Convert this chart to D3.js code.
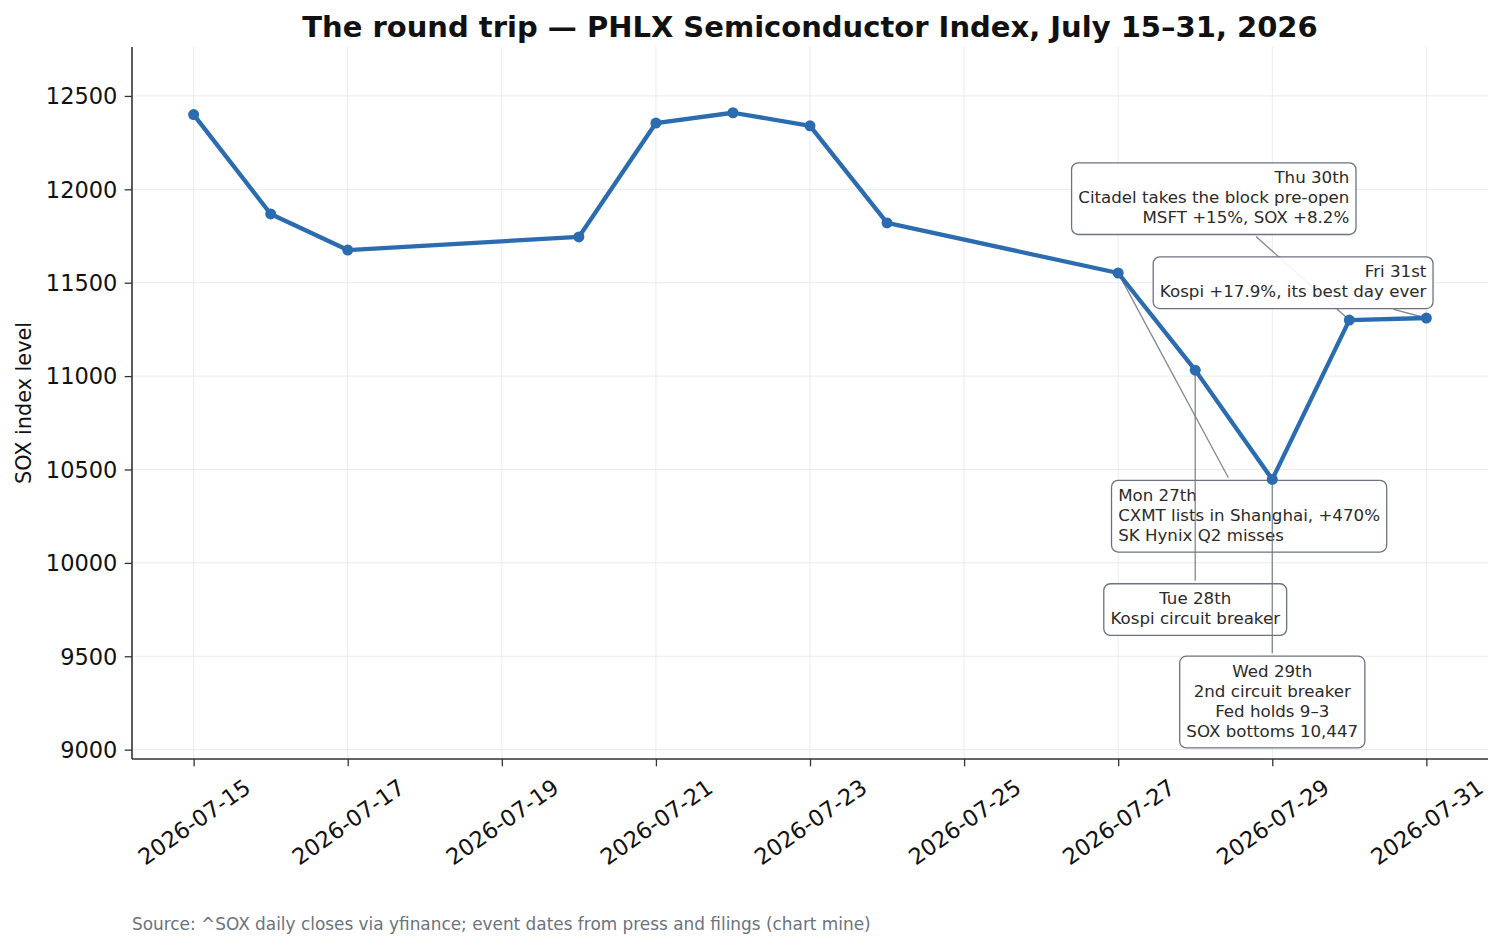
<!DOCTYPE html>
<html>
<head>
<meta charset="utf-8">
<script src="https://cdn.jsdelivr.net/npm/d3@7"></script>
<style>
  body { margin: 0; background: #fff; }
  svg { font-family: "DejaVu Sans", sans-serif; }
</style>
</head>
<body>
<svg class="chart" width="1502" height="948"></svg>
<script>
// daily closes
var dates = ["2026-07-15", "2026-07-16", "2026-07-17", "2026-07-20", "2026-07-21",
             "2026-07-22", "2026-07-23", "2026-07-24", "2026-07-27", "2026-07-28",
             "2026-07-29", "2026-07-30", "2026-07-31"];
var closes = [12400, 11868, 11675, 11745, 12355, 12410, 12340, 11820, 11552, 11032,
              10447, 11300, 11311];

var yTicks = [9000, 9500, 10000, 10500, 11000, 11500, 12000, 12500];
var xTicks = ["2026-07-15", "2026-07-17", "2026-07-19", "2026-07-21", "2026-07-23",
              "2026-07-25", "2026-07-27", "2026-07-29", "2026-07-31"];

// events: which day they point to, where the note sits, how it is aligned
var eventDays = ["2026-07-27", "2026-07-28", "2026-07-29", "2026-07-30", "2026-07-31"];
var eventTextAt = [["2026-07-27", 10250], ["2026-07-28", 9750], ["2026-07-29", 9255],
                   ["2026-07-30", 11950], ["2026-07-31", 11500]];
var eventAlign = ["start", "middle", "middle", "end", "end"];
var eventText = [
  ["Mon 27th", "CXMT lists in Shanghai, +470%", "SK Hynix Q2 misses"],
  ["Tue 28th", "Kospi circuit breaker"],
  ["Wed 29th", "2nd circuit breaker", "Fed holds 9\u20133", "SOX bottoms 10,447"],
  ["Thu 30th", "Citadel takes the block pre-open", "MSFT +15%, SOX +8.2%"],
  ["Fri 31st", "Kospi +17.9%, its best day ever"]
];

var title = "The round trip \u2014 PHLX Semiconductor Index, July 15\u201331, 2026";
var source = "Source: ^SOX daily closes via yfinance; event dates from press and filings (chart mine)";

var parse = d3.utcParse("%Y-%m-%d");
var fmt = d3.utcFormat("%Y-%m-%d");
var DAY = 864e5;

var svg = d3.select("svg.chart");
var m = {left: 132, right: 1488, top: 47, bottom: 759};

var series = dates.map(function(d, i) { return {date: parse(d), value: closes[i]}; });

var x = d3.scaleUtc()
  .domain([new Date(+parse("2026-07-15") - 0.8 * DAY), new Date(+parse("2026-07-31") + 0.8 * DAY)])
  .range([m.left, m.right]);
var y = d3.scaleLinear()
  .domain([8950, 12762])
  .range([m.bottom, m.top]);

// grid
var grid = svg.append("g");
grid.selectAll(".gx").data(xTicks).enter().append("line")
  .attr("x1", d => x(parse(d))).attr("x2", d => x(parse(d)))
  .attr("y1", m.top).attr("y2", m.bottom)
  .attr("stroke", "#ebebeb").attr("stroke-width", 1);
grid.selectAll(".gy").data(yTicks).enter().append("line")
  .attr("x1", m.left).attr("x2", m.right)
  .attr("y1", d => y(d)).attr("y2", d => y(d))
  .attr("stroke", "#ebebeb").attr("stroke-width", 1);

// axes
var tickLen = 7.3, tickPad = 7.3, tickFs = 22.5;
var yAxis = svg.append("g")
  .attr("transform", "translate(" + m.left + ",0)")
  .call(d3.axisLeft(y).tickValues(yTicks).tickFormat(d3.format("d"))
    .tickSize(tickLen).tickPadding(tickPad));
var xAxis = svg.append("g")
  .attr("transform", "translate(0," + m.bottom + ")")
  .call(d3.axisBottom(x).tickValues(xTicks.map(parse)).tickFormat(fmt)
    .tickSize(tickLen).tickPadding(tickPad));

[xAxis, yAxis].forEach(function(a) {
  a.select(".domain").attr("stroke", "#333").attr("stroke-width", 1.6);
  a.selectAll(".tick line").attr("stroke", "#333").attr("stroke-width", 1.3);
  a.selectAll("text").attr("fill", "#111").style("font-size", tickFs + "px")
    .style("font-family", "DejaVu Sans");
});
// vertical axis line should run the full height, horizontal the full width
yAxis.select(".domain").attr("d", "M0," + m.top + "V" + m.bottom);
xAxis.select(".domain").attr("d", "M" + m.left + ",0H" + m.right);

yAxis.selectAll("text").attr("dy", "0.35em");

// rotated date labels, centred under the tick like matplotlib does
var rot = 35 * Math.PI / 180;
xAxis.selectAll(".tick text").each(function() {
  var t = d3.select(this);
  var w = this.getComputedTextLength();
  var h = tickFs * 1.17;
  var bh = w * Math.sin(rot) + h * Math.cos(rot);
  var cy = tickLen + tickPad + bh / 2;
  t.attr("y", null).attr("dy", null)
    .attr("text-anchor", "middle")
    .attr("dominant-baseline", "central")
    .attr("transform", "translate(0," + cy + ") rotate(-35)");
});

// y label
svg.append("text")
  .attr("transform", "translate(24," + ((m.top + m.bottom) / 2) + ") rotate(-90)")
  .attr("text-anchor", "middle").attr("dominant-baseline", "central")
  .style("font-size", "20.8px").attr("fill", "#111")
  .text("SOX index level");

// title
svg.append("text")
  .attr("x", (m.left + m.right) / 2).attr("y", 37)
  .attr("text-anchor", "middle")
  .style("font-size", "29px").style("font-weight", "bold").attr("fill", "#111")
  .text(title);

// source note
svg.append("text")
  .attr("x", m.left).attr("y", 930)
  .style("font-size", "16.9px").attr("fill", "#6b7280")
  .text(source);

// annotations: connector first, then the box, in order
var annFs = 16.67, lineH = annFs * 1.2, pad = annFs * 0.4;
var annG = svg.append("g");
eventText.forEach(function(lines, i) {
  var day = parse(eventDays[i]);
  var pv = closes[dates.indexOf(eventDays[i])];
  var px = x(day), py = y(pv);
  var ax = x(parse(eventTextAt[i][0])), ay = y(eventTextAt[i][1]);
  var g = annG.append("g");
  var conn = g.append("line");
  var box = g.append("rect");
  var txt = g.append("text")
    .style("font-size", annFs + "px").attr("fill", "#2a2a2a")
    .attr("text-anchor", eventAlign[i]);
  var th = (lines.length - 1) * lineH + annFs * 1.1;
  var top = ay - th / 2;
  lines.forEach(function(s, k) {
    txt.append("tspan").attr("x", ax).attr("y", top + annFs * 0.82 + k * lineH).text(s);
  });
  var tw = d3.max(txt.selectAll("tspan").nodes(), n => n.getComputedTextLength());
  var left = eventAlign[i] === "start" ? ax : eventAlign[i] === "end" ? ax - tw : ax - tw / 2;
  var bx0 = left - pad, by0 = top - pad, bw = tw + 2 * pad, bh = th + 2 * pad;
  box.attr("x", bx0).attr("y", by0).attr("width", bw).attr("height", bh)
    .attr("rx", pad).attr("ry", pad)
    .attr("fill", "#fff").attr("fill-opacity", 0.9)
    .attr("stroke", "#6b7280").attr("stroke-width", 1.3);

  // line from box centre to the point, clipped at the box edge
  var cx = bx0 + bw / 2, cy = by0 + bh / 2;
  var dx = px - cx, dy = py - cy;
  var tx = dx !== 0 ? (bw / 2) / Math.abs(dx) : Infinity;
  var ty = dy !== 0 ? (bh / 2) / Math.abs(dy) : Infinity;
  var t0 = Math.min(tx, ty);
  var len = Math.sqrt(dx * dx + dy * dy);
  var tA = t0 + 3 / len, tB = 1 - 3 / len;
  conn.attr("x1", cx + dx * tA).attr("y1", cy + dy * tA)
    .attr("x2", cx + dx * tB).attr("y2", cy + dy * tB)
    .attr("stroke", "#6b7280").attr("stroke-opacity", 0.85).attr("stroke-width", 1.3);
});

// the series sits on top
var line = d3.line().x(d => x(d.date)).y(d => y(d.value));
svg.append("path").datum(series)
  .attr("d", line).attr("fill", "none")
  .attr("stroke", "#2b6cb0").attr("stroke-width", 4.3)
  .attr("stroke-linejoin", "round");
svg.selectAll(".pt").data(series).enter().append("circle")
  .attr("cx", d => x(d.date)).attr("cy", d => y(d.value)).attr("r", 5.5)
  .attr("fill", "#2b6cb0");
</script>
</body>
</html>
